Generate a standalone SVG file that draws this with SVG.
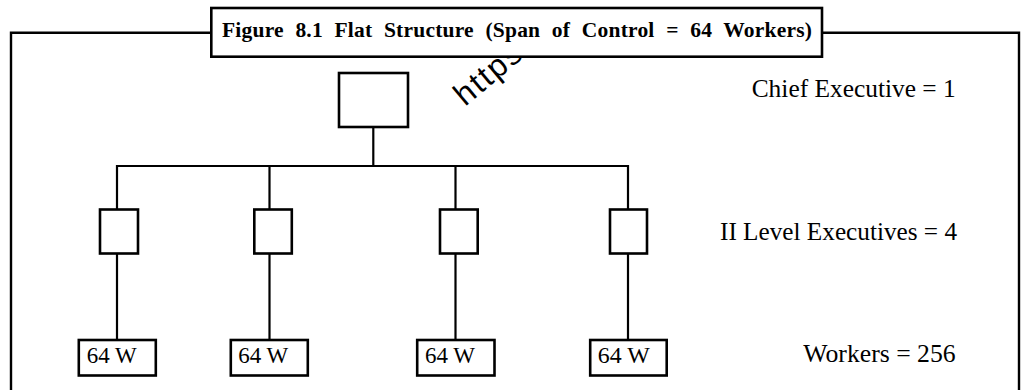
<svg xmlns="http://www.w3.org/2000/svg" width="1027" height="390" viewBox="0 0 1027 390">
<style>
.box{fill:#fff;stroke:#000;stroke-width:2.6}
.ln{fill:none;stroke:#000;stroke-width:2.2}
.frame{fill:none;stroke:#000;stroke-width:2.4}
.lbl{font-family:"Liberation Serif",serif;font-size:25px;fill:#000}
.wt{font-family:"Liberation Serif",serif;font-size:23px;fill:#000}
.title{font-family:"Liberation Serif",serif;font-size:21.5px;font-weight:bold;fill:#000;word-spacing:6px}
.wm{font-family:"Liberation Sans",sans-serif;font-size:32px;fill:#000;letter-spacing:2px}
</style>
<rect width="1027" height="390" fill="#fff"/>
<path class="frame" d="M11,392 V32.7 H211 M822,32.7 H1019 V392"/>
<text class="wm" transform="translate(465,107) rotate(-40)">https://</text>
<g id="title">
<rect class="box" x="211.3" y="8" width="610.7" height="48.7"/>
<text class="title" x="222" y="36.5" textLength="590" lengthAdjust="spacing">Figure 8.1 Flat Structure (Span of Control = 64 Workers)</text>
</g>
<g id="connectors">
<path class="ln" d="M373.3,127 V166"/>
<path class="ln" d="M117,209 V166 H628 V209"/>
<path class="ln" d="M269.5,166 V209 M455.5,166 V209"/>
<path class="ln" d="M117,254 V340 M269.5,254 V340 M455.5,254 V340 M628,254 V340"/>
</g>
<g id="chief"><rect class="box" x="339" y="73" width="69" height="54"/></g>
<g id="exec1"><rect class="box" x="100" y="209.5" width="38" height="44"/></g>
<g id="exec2"><rect class="box" x="254.3" y="209.5" width="37.5" height="44"/></g>
<g id="exec3"><rect class="box" x="440" y="209.5" width="37.7" height="44"/></g>
<g id="exec4"><rect class="box" x="610" y="209.5" width="37" height="44"/></g>
<g id="w1"><rect class="box" x="78.8" y="340" width="77" height="35.5"/><text class="wt" x="86.7" y="362.7" textLength="50" lengthAdjust="spacingAndGlyphs">64 W</text></g>
<g id="w2"><rect class="box" x="230.8" y="340" width="77" height="35.5"/><text class="wt" x="238.3" y="362.7" textLength="50" lengthAdjust="spacingAndGlyphs">64 W</text></g>
<g id="w3"><rect class="box" x="417.2" y="340" width="77.3" height="35.5"/><text class="wt" x="425" y="362.7" textLength="50" lengthAdjust="spacingAndGlyphs">64 W</text></g>
<g id="w4"><rect class="box" x="590.2" y="340" width="76.5" height="35.5"/><text class="wt" x="597.7" y="362.7" textLength="52" lengthAdjust="spacingAndGlyphs">64 W</text></g>
<g id="labels">
<text class="lbl" x="751.7" y="97" textLength="204" lengthAdjust="spacingAndGlyphs">Chief Executive = 1</text>
<text class="lbl" x="720" y="240" textLength="237" lengthAdjust="spacingAndGlyphs">II Level Executives = 4</text>
<text class="lbl" x="803.3" y="362.3" textLength="152.4" lengthAdjust="spacingAndGlyphs">Workers = 256</text>
</g>
</svg>
